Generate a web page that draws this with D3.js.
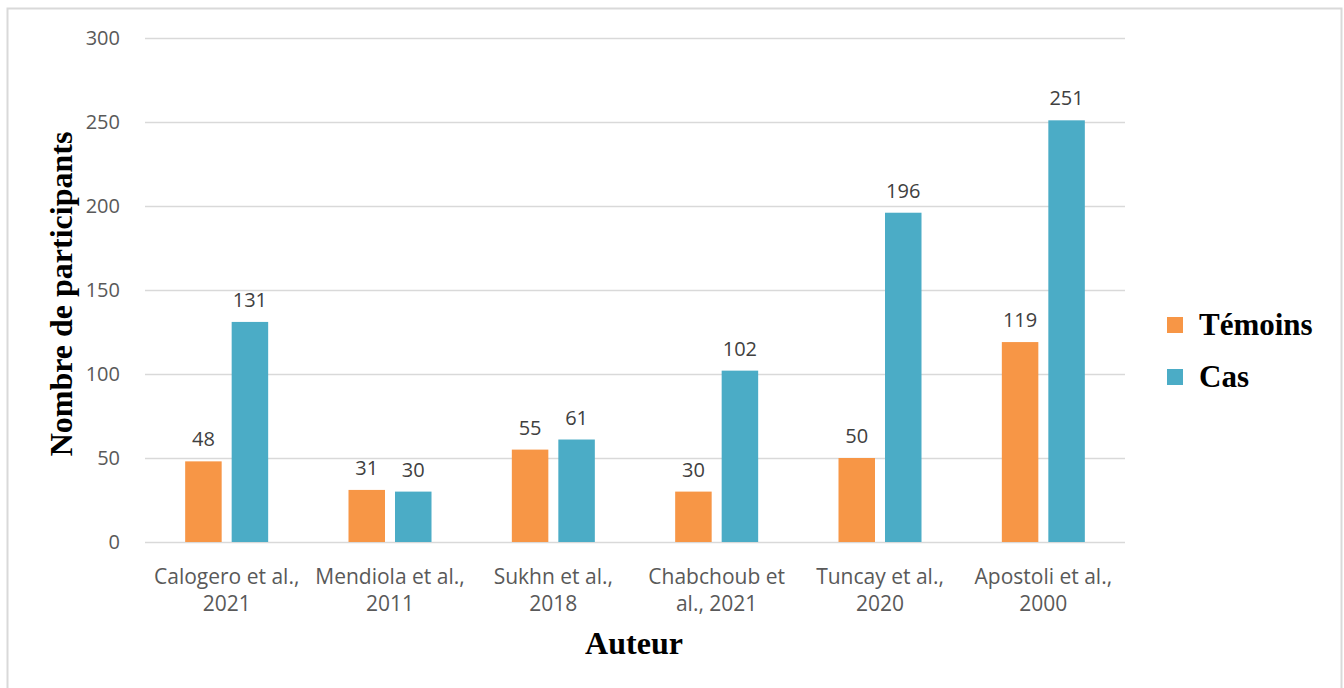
<!DOCTYPE html>
<html>
<head>
<meta charset="utf-8">
<script src="https://cdn.jsdelivr.net/npm/d3@7"></script>
<style>
  html, body { margin: 0; padding: 0; background: #fff; }
  svg { display: block; }
</style>
</head>
<body>
<svg id="chart" width="1344" height="688"></svg>
<script>
// Study authors (two-line labels) and participant counts per group
const categories = [
  ["Calogero et al.,", "2021"],
  ["Mendiola et al.,", "2011"],
  ["Sukhn et al.,", "2018"],
  ["Chabchoub et", "al., 2021"],
  ["Tuncay et al.,", "2020"],
  ["Apostoli et al.,", "2000"]
];
const seriesNames = ["Témoins", "Cas"];
const temoins = [48, 31, 55, 30, 50, 119];
const cas = [131, 30, 61, 102, 196, 251];
const yTicks = [0, 50, 100, 150, 200, 250, 300];
const colors = ["#F79646", "#4BACC6"];

const svg = d3.select("#chart");

// outer frame
svg.append("rect")
  .attr("x", 7.5).attr("y", 8.5)
  .attr("width", 1334).attr("height", 700)
  .attr("fill", "#fff").attr("stroke", "#d9d9d9").attr("stroke-width", 2);

const plot = { left: 145, right: 1125, top: 38, bottom: 542 };

const x = d3.scaleBand()
  .domain(d3.range(categories.length))
  .range([plot.left, plot.right])
  .paddingInner(0).paddingOuter(0);

const y = d3.scaleLinear().domain([0, 300]).range([plot.bottom, plot.top]);

// gridlines
svg.append("g")
  .selectAll("line")
  .data(yTicks)
  .join("line")
  .attr("x1", plot.left).attr("x2", plot.right)
  .attr("y1", d => Math.round(y(d)) + 0.5).attr("y2", d => Math.round(y(d)) + 0.5)
  .attr("stroke", "#d9d9d9").attr("stroke-width", 1.5);

// y tick labels
const yAxis = d3.axisLeft(y).tickValues(yTicks).tickSize(0).tickPadding(0);
const gy = svg.append("g").attr("transform", `translate(${plot.left - 25},0)`).call(yAxis);
gy.select(".domain").remove();
gy.selectAll("text")
  .attr("font-family", "'Open Sans', sans-serif")
  .attr("font-size", 20)
  .attr("fill", "#595959");

// bars with value labels
const barW = 36.5, innerGap = 10;
const series = [temoins, cas];
series.forEach((vals, s) => {
  const offset = s === 0 ? -(innerGap / 2 + barW) : innerGap / 2;
  const g = svg.append("g");
  g.selectAll("rect")
    .data(vals)
    .join("rect")
    .attr("x", (d, i) => x(i) + x.bandwidth() / 2 + offset)
    .attr("y", d => y(d))
    .attr("width", barW)
    .attr("height", d => y(0) - y(d))
    .attr("fill", colors[s]);
  g.selectAll("text")
    .data(vals)
    .join("text")
    .attr("x", (d, i) => x(i) + x.bandwidth() / 2 + offset + barW / 2)
    .attr("y", d => y(d) - 15)
    .attr("text-anchor", "middle")
    .attr("font-family", "'Open Sans', sans-serif")
    .attr("font-size", 20)
    .attr("fill", "#404040")
    .text(d => d);
});

// category labels
const gx = svg.append("g");
categories.forEach((lines, i) => {
  const t = gx.append("text")
    .attr("text-anchor", "middle")
    .attr("font-family", "'Open Sans', sans-serif")
    .attr("font-size", 21)
    .attr("fill", "#595959");
  lines.forEach((ln, k) => {
    t.append("tspan")
      .attr("x", x(i) + x.bandwidth() / 2)
      .attr("y", 584 + k * 27)
      .text(ln);
  });
});

// axis titles
svg.append("text")
  .attr("x", 634).attr("y", 654)
  .attr("text-anchor", "middle")
  .attr("font-family", "'Liberation Serif', 'Times New Roman', serif")
  .attr("font-weight", "bold")
  .attr("font-size", 32)
  .attr("fill", "#000")
  .text("Auteur");

svg.append("text")
  .attr("transform", "translate(72,294) rotate(-90)")
  .attr("text-anchor", "middle")
  .attr("font-family", "'Liberation Serif', 'Times New Roman', serif")
  .attr("font-weight", "bold")
  .attr("font-size", 32)
  .attr("fill", "#000")
  .text("Nombre de participants");

// legend
const legend = svg.append("g");
seriesNames.forEach((name, s) => {
  const yy = 317 + s * 52;
  legend.append("rect")
    .attr("x", 1167).attr("y", yy)
    .attr("width", 16).attr("height", 16)
    .attr("fill", colors[s]);
  legend.append("text")
    .attr("x", 1199).attr("y", yy + 18)
    .attr("font-family", "'Liberation Serif', 'Times New Roman', serif")
    .attr("font-weight", "bold")
    .attr("font-size", 31)
    .attr("fill", "#000")
    .text(name);
});
</script>
</body>
</html>
